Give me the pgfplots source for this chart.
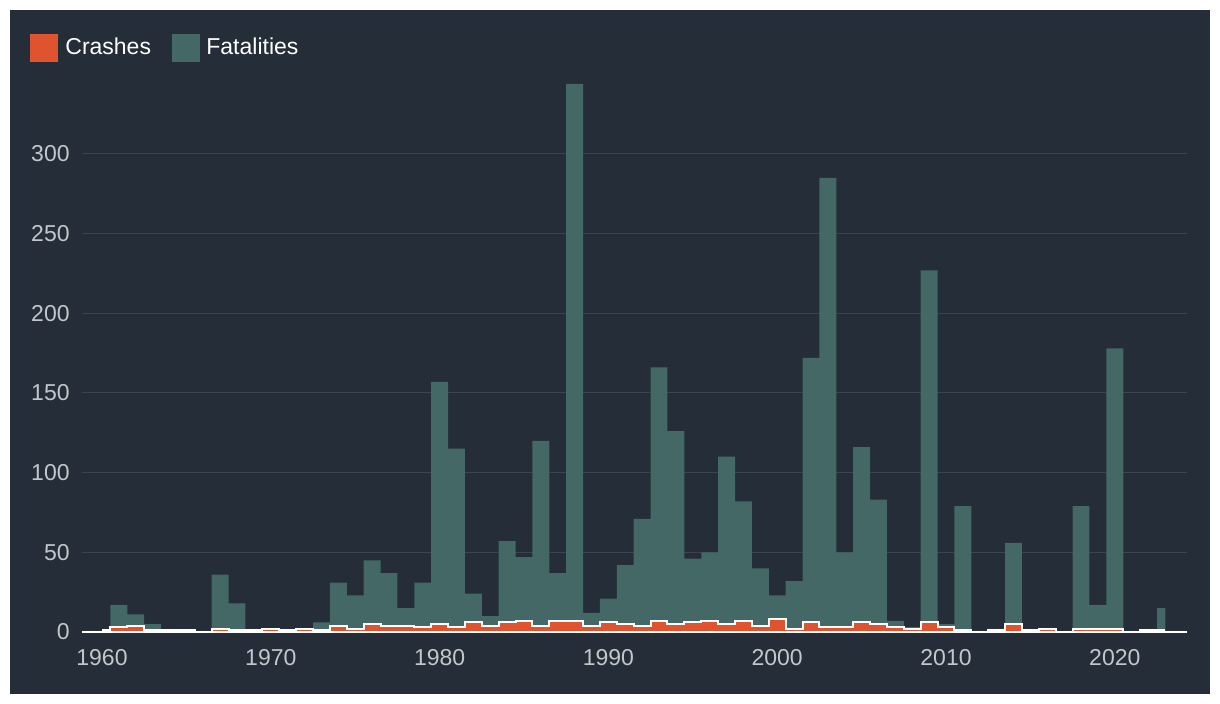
\documentclass[border=0pt]{standalone}
\usepackage{pgfplots}
\pgfplotsset{compat=1.18}
\usepackage{pgfplotstable}
\usepackage{fontspec}
\setmainfont{Liberation Sans}
\definecolor{bg}{HTML}{252D38}
\definecolor{tealc}{HTML}{436866}
\definecolor{orangec}{HTML}{E0532F}
\definecolor{gridc}{HTML}{3B444F}
\definecolor{tickc}{HTML}{C3C7CC}
\pgfplotstableread{
year crashes fatalities
1960 1 0
1961 3 17
1962 4 11
1963 1 5
1964 1 0
1965 1 0
1966 0 0
1967 2 36
1968 1 18
1969 1 0
1970 2 0
1971 1 0
1972 2 0
1973 1 6
1974 4 31
1975 2 23
1976 5 45
1977 4 37
1978 4 15
1979 3 31
1980 5 157
1981 3 115
1982 6 24
1983 4 10
1984 6 57
1985 7 47
1986 4 120
1987 7 37
1988 7 344
1989 4 12
1990 6 21
1991 5 42
1992 4 71
1993 7 166
1994 5 126
1995 6 46
1996 7 50
1997 5 110
1998 7 82
1999 4 40
2000 8 23
2001 2 32
2002 6 172
2003 3 285
2004 3 50
2005 6 116
2006 5 83
2007 3 7
2008 2 3
2009 6 227
2010 3 5
2011 1 79
2012 0 0
2013 1 2
2014 5 56
2015 1 0
2016 2 1
2017 0 0
2018 2 79
2019 2 17
2020 2 178
2021 0 0
2022 1 0
2023 1 15
}\datatable
\begin{document}
\begin{tikzpicture}
\fill[white] (0,0) rectangle (610pt,352pt);
\fill[bg] (5pt,5pt) rectangle (605pt,347pt);
\begin{axis}[
  at={(41pt,36pt)}, anchor=south west,
  scale only axis,
  width=552.35pt, height=278.85pt,
  xmin=1958.815, xmax=2024.26,
  ymin=0, ymax=350,
  xtick={1960,1970,...,2020},
  ytick={50,100,...,300},
  extra y ticks={0},
  extra y tick style={grid=none},
  ymajorgrids,
  grid style={gridc, line width=0.5pt},
  axis line style={draw=none},
  major tick length=0pt,
  tick style={draw=none},
  /pgf/number format/assume math mode=true,
  /pgf/number format/1000 sep={},
  ticklabel style={font=\fontsize{11.5}{13}\selectfont, text=tickc},
  xticklabel style={anchor=base, inner sep=0pt, yshift=-17pt},
  yticklabel style={anchor=east, inner sep=0pt, xshift=-6pt},
  clip=false,
]
\addplot[const plot mark mid, fill=tealc, draw=none] table[x=year, y=fatalities] {\datatable} \closedcycle;
\addplot[const plot mark mid, fill=orangec, draw=none] table[x=year, y=crashes] {\datatable} \closedcycle;
\addplot[const plot mark mid, draw=white, line width=1pt, no marks] table[x=year, y=crashes] {\datatable};
\draw[white, line width=1pt] (rel axis cs:0,0) -- (rel axis cs:1,0);
\end{axis}
% legend
\fill[orangec] (15pt,321.15pt) rectangle (28.85pt,335pt);
\node[anchor=base west, inner sep=0pt, text=white, font=\fontsize{11.5}{13}\selectfont] at (32.5pt,324.5pt) {Crashes};
\fill[tealc] (86pt,321.15pt) rectangle (100pt,335pt);
\node[anchor=base west, inner sep=0pt, text=white, font=\fontsize{11.5}{13}\selectfont] at (103pt,324.5pt) {Fatalities};
\pgfresetboundingbox
\useasboundingbox (0,0) rectangle (610pt,352pt);
\end{tikzpicture}
\end{document}
